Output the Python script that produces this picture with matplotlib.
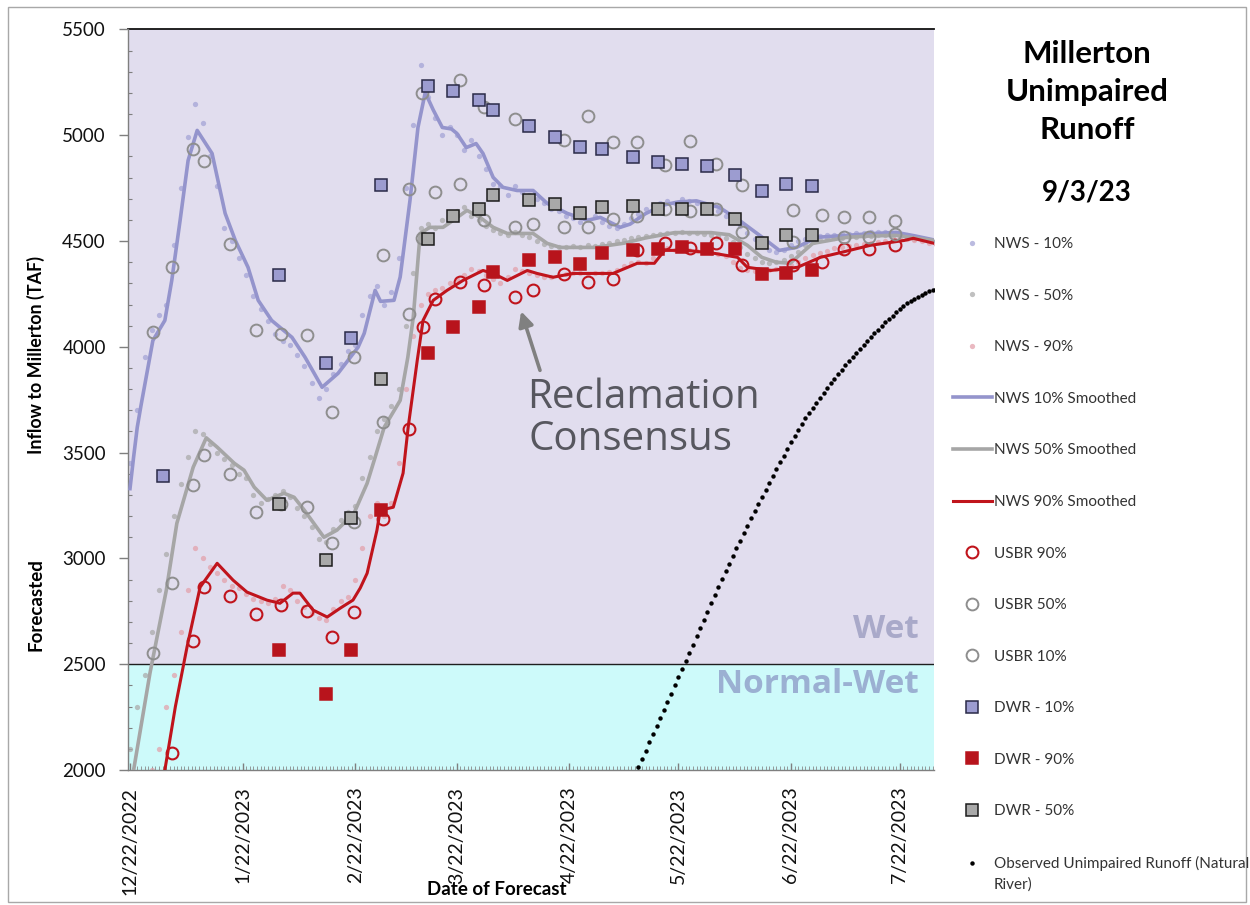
import numpy as np
import matplotlib
matplotlib.use("Agg")
import matplotlib.pyplot as plt
import matplotlib.dates as mdates
from matplotlib.ticker import FuncFormatter, MultipleLocator
from matplotlib.patches import Rectangle

# ---------------------------------------------------------------------------
# Forecast data (days counted from 12/22/2022, values in TAF)
# ---------------------------------------------------------------------------
# NWS smoothed traces
nws10_line_days = [0, 1, 2, 3, 6.3, 9.6, 11.5, 13.8, 16, 18.5, 22.6, 26.2, 29, 32.5, 35.3, 39,
                   44.6, 48.2, 52.9, 57.3, 62.8, 64.5, 67.5, 69, 72.7, 74.4, 77.1, 79.3, 81.3,
                   83.5, 86, 88.5, 90, 92.6, 95.3, 97.2, 100, 102.7, 106.6, 111, 114.9, 120.4,
                   125.9, 129.5, 135, 137.7, 142, 146.8, 151, 156, 162.3, 167.8, 174.1, 178.8,
                   183.5, 189.3, 197.5, 204, 211, 216, 221.5]
nws10_line = [3330, 3480, 3620, 3720, 4030, 4125, 4314, 4598, 4881, 5023, 4914, 4631, 4503, 4376,
              4220, 4125, 4045, 3951, 3809, 3875, 3998, 4064, 4267, 4215, 4220, 4330, 4692, 5037,
              5202, 5120, 5037, 5030, 5009, 4942, 4961, 4914, 4801, 4754, 4739, 4739, 4678, 4631,
              4598, 4612, 4565, 4580, 4630, 4670, 4685, 4690, 4659, 4598, 4518, 4456, 4470, 4518,
              4527, 4535, 4541, 4525, 4505]

nws50_line_days = [0, 1, 5.5, 10, 12.9, 17.4, 21, 24, 28.7, 31.4, 34.2, 37.7, 42.4, 45.2, 48,
                   53.4, 57, 61.7, 65.3, 67.5, 70, 74.4, 76.5, 78, 79.9, 82.6, 86.2, 89, 92.8,
                   96.4, 100, 103.9, 111, 114.9, 118.5, 128, 136, 142, 150, 160, 165, 170, 174,
                   178, 181.8, 188, 197.5, 205, 211, 216, 221.5]
nws50_line = [1900, 2000, 2458, 2850, 3166, 3431, 3570, 3526, 3450, 3417, 3337, 3275, 3308, 3289,
              3228, 3100, 3134, 3214, 3355, 3478, 3620, 3747, 3950, 4139, 4536, 4565, 4565, 4598,
              4645, 4612, 4565, 4536, 4536, 4489, 4470, 4470, 4490, 4515, 4540, 4540, 4530, 4480,
              4423, 4400, 4395, 4489, 4518, 4525, 4527, 4515, 4503]

nws90_line_days = [8.5, 9.6, 12.5, 15.7, 19.3, 24, 28.4, 32.2, 37.7, 41.3, 44.9, 46.8, 50.4, 54.3,
                   57.9, 61.4, 63.4, 65.3, 68, 68.9, 72.5, 75.2, 76.6, 79.1, 80.7, 83.5, 87.3,
                   91.7, 97.2, 100, 103.9, 109.4, 112.1, 116.5, 122, 133, 139.7, 144.4, 147.2,
                   153.5, 160.9, 167.3, 170, 176.4, 183.8, 190.1, 194.8, 203.9, 213.2, 215.7, 221.5]
nws90_line = [1900, 2000, 2300, 2581, 2864, 2977, 2897, 2841, 2803, 2788, 2836, 2836, 2756, 2723,
              2765, 2803, 2860, 2930, 3133, 3228, 3242, 3403, 3620, 3936, 4125, 4220, 4267, 4314,
              4361, 4347, 4314, 4361, 4347, 4329, 4347, 4347, 4395, 4395, 4456, 4456, 4442, 4423,
              4376, 4361, 4376, 4423, 4442, 4480, 4503, 4513, 4489]

# NWS raw forecasts, every second day
nws10_first_day, nws50_first_day, nws90_first_day = 0, 0, 6
nws10_dots = [3450, 3700, 3950, 4080, 4150, 4200, 4480, 4750, 4990, 5150,
              5060, 4900, 4760, 4560, 4500, 4420, 4340, 4240, 4180, 4120,
              4060, 4030, 4010, 3960, 3910, 3830, 3760, 3800, 3870, 3920,
              3980, 4010, 4150, 4240, 4290, 4200, 4260, 4420, 4750, 5050,
              5330, 5180, 5080, 5000, 5040, 5000, 4930, 4980, 4900, 4840,
              4770, 4760, 4720, 4760, 4730, 4720, 4700, 4680, 4650, 4640,
              4620, 4610, 4590, 4600, 4620, 4590, 4570, 4560, 4580, 4610,
              4630, 4650, 4670, 4680, 4690, 4680, 4700, 4690, 4680, 4670,
              4660, 4640, 4620, 4600, 4570, 4540, 4510, 4490, 4460, 4450,
              4460, 4480, 4500, 4510, 4520, 4525, 4530, 4530, 4535, 4535,
              4540, 4540, 4545, 4545, 4545, 4540, 4535, 4530, 4520, 4510,
              4505, 4500]
nws50_dots = [2100, 2300, 2450, 2650, 2850, 3020, 3200, 3350, 3480, 3600,
              3590, 3540, 3500, 3470, 3440, 3400, 3380, 3300, 3260, 3280,
              3300, 3320, 3290, 3240, 3200, 3150, 3090, 3080, 3140, 3180,
              3220, 3250, 3380, 3480, 3600, 3660, 3720, 3800, 4100, 4350,
              4560, 4580, 4560, 4600, 4620, 4640, 4660, 4620, 4600, 4570,
              4550, 4540, 4530, 4545, 4530, 4520, 4500, 4485, 4475, 4470,
              4470, 4475, 4470, 4480, 4475, 4485, 4490, 4500, 4505, 4515,
              4520, 4525, 4530, 4535, 4540, 4540, 4545, 4540, 4540, 4535,
              4530, 4525, 4515, 4495, 4470, 4440, 4420, 4400, 4395, 4400,
              4410, 4430, 4450, 4480, 4495, 4505, 4510, 4515, 4515, 4520,
              4520, 4525, 4525, 4528, 4528, 4525, 4522, 4518, 4512, 4508,
              4503, 4500]
nws90_dots = [2000, 2100, 2300, 2450, 2650, 2850, 3050, 3000, 2960, 2930,
              2900, 2870, 2860, 2830, 2810, 2800, 2790, 2810, 2870, 2850,
              2800, 2770, 2740, 2720, 2710, 2760, 2800, 2820, 2900, 3050,
              3200, 3260, 3200, 3260, 3450, 3800, 4050, 4200, 4250, 4270,
              4280, 4300, 4320, 4340, 4370, 4360, 4340, 4320, 4300, 4330,
              4370, 4360, 4350, 4340, 4330, 4330, 4340, 4345, 4350, 4350,
              4345, 4350, 4350, 4355, 4365, 4380, 4395, 4400, 4395, 4420,
              4460, 4465, 4460, 4460, 4458, 4455, 4450, 4445, 4440, 4430,
              4400, 4375, 4365, 4360, 4360, 4365, 4370, 4375, 4385, 4400,
              4420, 4435, 4445, 4455, 4465, 4470, 4478, 4482, 4486, 4490,
              4495, 4500, 4505, 4508, 4510, 4505, 4498, 4492, 4488]

# USBR forecasts
usbr10_days = [6.4, 11.5, 17.4, 20.5, 27.5, 34.7, 41.6, 48.7, 55.7, 61.8, 69.6, 76.8, 80.3, 91,
               97.4, 106, 119.4, 126, 133, 139.7, 147.4, 154.3, 161.4, 168.5, 182.7, 190.5,
               196.5, 203.4, 210.6]
usbr10 = [4070, 4377, 4936, 4878, 4488, 4081, 4062, 4054, 3690, 3952, 4432, 4745, 5200, 5262,
          5133, 5075, 4980, 5089, 4968, 4968, 4861, 4972, 4865, 4763, 4649, 4621, 4613, 4613, 4593]
usbr50_days = [6.4, 11.5, 17.4, 20.5, 27.5, 34.7, 41.6, 48.7, 55.7, 61.8, 69.6, 76.8, 80.3, 84,
               91, 97.4, 106, 111, 119.4, 126, 133, 139.7, 147.4, 154.3, 161.4, 168.5, 182.7,
               196.5, 203.4, 210.6]
usbr50 = [2551, 2882, 3346, 3488, 3401, 3220, 3255, 3244, 3073, 3173, 3645, 4157, 4515, 4730,
          4770, 4598, 4566, 4582, 4566, 4566, 4606, 4620, 4650, 4641, 4650, 4542, 4495, 4519,
          4519, 4535]
usbr90_days = [11.5, 17.4, 20.5, 27.5, 34.7, 41.6, 48.7, 55.7, 61.8, 69.6, 76.8, 80.8, 84, 91,
               97.4, 106, 111, 119.4, 126, 133, 139.7, 147.4, 154.3, 161.4, 168.5, 182.7, 190.5,
               196.5, 203.4, 210.6]
usbr90 = [2079, 2611, 2866, 2823, 2737, 2779, 2752, 2630, 2746, 3184, 3614, 4094, 4228, 4306,
          4291, 4235, 4270, 4346, 4306, 4322, 4456, 4490, 4465, 4490, 4385, 4385, 4401, 4464,
          4464, 4480]

# DWR forecasts
dwr10_days = [9.1, 40.9, 54, 60.9, 69, 82, 89, 96, 100, 110, 117, 124, 130, 138.6, 145.5, 152,
              159, 166.5, 174, 180.6, 187.8]
dwr10 = [3389, 4338, 3922, 4040, 4763, 5231, 5208, 5168, 5120, 5043, 4994, 4944, 4935, 4897,
         4873, 4865, 4854, 4810, 4739, 4768, 4760]
dwr_days = [40.9, 54, 60.9, 69, 82, 89, 96, 100, 110, 117, 124, 130, 138.6, 145.5, 152, 159,
            166.5, 174, 180.6, 187.8]
dwr50 = [3255, 2992, 3193, 3850, 4511, 4617, 4652, 4716, 4695, 4673, 4632, 4660, 4665, 4653,
         4653, 4653, 4606, 4492, 4527, 4527]
dwr90 = [2567, 2358, 2567, 3231, 3971, 4094, 4188, 4353, 4409, 4424, 4393, 4443, 4456, 4464,
         4472, 4464, 4464, 4346, 4349, 4365]

# Observed unimpaired runoff (daily, starting day 140)
observed_first_day = 140
observed = [2015, 2053, 2092, 2130, 2169, 2207, 2246, 2284, 2323, 2361,
            2400, 2438, 2477, 2515, 2554, 2593, 2632, 2671, 2710, 2749,
            2788, 2827, 2866, 2904, 2940, 2976, 3012, 3048, 3084, 3120,
            3155, 3190, 3225, 3259, 3292, 3325, 3358, 3390, 3422, 3454,
            3486, 3517, 3548, 3578, 3607, 3635, 3662, 3688, 3713, 3737,
            3760, 3783, 3805, 3827, 3849, 3870, 3891, 3912, 3932, 3952,
            3972, 3991, 4010, 4029, 4047, 4065, 4082, 4099, 4116, 4132,
            4148, 4163, 4178, 4192, 4205, 4217, 4228, 4238, 4247, 4255,
            4262, 4268, 4274]

# Year-type thresholds
WET_FLOOR = 2500
Y_MIN, Y_MAX = 2000, 5500

# ---------------------------------------------------------------------------
BASE = mdates.date2num(np.datetime64("2022-12-22"))


def to_x(days):
    return BASE + np.asarray(days, dtype=float)


def grid_days(first, n, step):
    return first + step * np.arange(n)


W, H = 1250, 905
plt.rcParams["font.family"] = ["Lato", "DejaVu Sans"]
fig = plt.figure(figsize=(W / 100, H / 100), dpi=100)
ax = fig.add_axes([128 / W, 1 - 770 / H, (934 - 128) / W, (770 - 29.5) / H])

LAV = "#9494cc"
GRAY = "#a6a6a6"
RED = "#c0141c"

# Year-type background bands
ax.axhspan(WET_FLOOR, Y_MAX, color="#e1ddee", zorder=0, lw=0)
ax.axhspan(Y_MIN, WET_FLOOR, color="#cdfafa", zorder=0, lw=0)
ax.axhline(WET_FLOOR, color="#1e1e1e", lw=1.0, zorder=1)
ax.axhline(Y_MAX, color="#111111", lw=1.3, zorder=1, clip_on=False)

dot_style = dict(ls="none", marker="o", ms=3.8, mec="none", alpha=0.75, zorder=2)
h = []
h.append(ax.plot(to_x(grid_days(nws10_first_day, len(nws10_dots), 2)), nws10_dots,
                 mfc="#a4a4d6", label="NWS - 10%", **dot_style)[0])
h.append(ax.plot(to_x(grid_days(nws50_first_day, len(nws50_dots), 2)), nws50_dots,
                 mfc="#ababab", label="NWS - 50%", **dot_style)[0])
h.append(ax.plot(to_x(grid_days(nws90_first_day, len(nws90_dots), 2)), nws90_dots,
                 mfc="#e3a2ac", label="NWS - 90%", **dot_style)[0])
h.append(ax.plot(to_x(nws10_line_days), nws10_line, color=LAV, lw=2.6, zorder=3,
                 solid_joinstyle="round", label="NWS 10% Smoothed")[0])
h.append(ax.plot(to_x(nws50_line_days), nws50_line, color=GRAY, lw=2.6, zorder=3,
                 solid_joinstyle="round", label="NWS 50% Smoothed")[0])
h.append(ax.plot(to_x(nws90_line_days), nws90_line, color=RED, lw=2.2, zorder=3,
                 solid_joinstyle="round", label="NWS 90% Smoothed")[0])
h.append(ax.plot(to_x(usbr90_days), usbr90, ls="none", marker="o", ms=8.5, mfc="none",
                 mec=RED, mew=1.5, zorder=4, label="USBR 90%")[0])
h.append(ax.plot(to_x(usbr50_days), usbr50, ls="none", marker="o", ms=8.5, mfc="none",
                 mec="#8e8e8e", mew=1.4, zorder=4, label="USBR 50%")[0])
h.append(ax.plot(to_x(usbr10_days), usbr10, ls="none", marker="o", ms=8.5, mfc="none",
                 mec="#8e8e8e", mew=1.4, zorder=4, label="USBR 10%")[0])
h.append(ax.plot(to_x(dwr10_days), dwr10, ls="none", marker="s", ms=8, mfc="#9c9cd0",
                 mec="#2a2a48", mew=1.1, zorder=5, label="DWR - 10%")[0])
h.append(ax.plot(to_x(dwr_days), dwr90, ls="none", marker="s", ms=8, mfc="#b8141c",
                 mec="#b8141c", mew=1.1, zorder=5, label="DWR - 90%")[0])
h.append(ax.plot(to_x(dwr_days), dwr50, ls="none", marker="s", ms=8, mfc="#a9a9a9",
                 mec="#1c1c1c", mew=1.1, zorder=5, label="DWR - 50%")[0])
h.append(ax.plot(to_x(grid_days(observed_first_day, len(observed), 1)), observed, ls="none",
                 marker="o", ms=3.2, mec="none", mfc="black", zorder=6,
                 label="Observed Unimpaired Runoff (Natural")[0])

# Axes, ticks
ax.set_xlim(BASE - 0.55, BASE + 221.4)
ax.set_ylim(Y_MIN, Y_MAX)
for s in ("top", "right"):
    ax.spines[s].set_visible(False)
for s in ("left", "bottom"):
    ax.spines[s].set_color("#7f7f7f")
    ax.spines[s].set_linewidth(1.0)

ax.yaxis.set_major_locator(MultipleLocator(500))
ax.yaxis.set_minor_locator(MultipleLocator(100))
ax.tick_params(axis="y", which="major", direction="out", length=6.5, width=1, color="#7f7f7f",
               pad=9.5, labelsize=13.5, labelcolor="#111111")
ax.tick_params(axis="y", which="minor", direction="in", length=3, width=0.8, color="#7f7f7f")

ax.xaxis.set_major_locator(mdates.MonthLocator(bymonthday=22))
ax.xaxis.set_minor_locator(mdates.DayLocator())
ax.xaxis.set_major_formatter(FuncFormatter(
    lambda v, pos: "{d.month}/{d.day}/{d.year}".format(d=mdates.num2date(v))))
ax.tick_params(axis="x", which="major", direction="in", length=5, width=1, color="#7f7f7f",
               pad=12, labelsize=14, labelrotation=90, labelcolor="#111111")
ax.tick_params(axis="x", which="minor", direction="in", length=3, width=0.6, color="#8a8a8a")

# Axis titles
fig.text(36 / W, 1 - 355 / H, "Inflow to Millerton (TAF)", rotation=90, ha="center",
         va="center", fontsize=12.9, fontweight="bold")
fig.text(36 / W, 1 - 605 / H, "Forecasted", rotation=90, ha="center", va="center",
         fontsize=13.5, fontweight="bold")
fig.text(497 / W, 1 - 889 / H, "Date of Forecast", ha="center", va="center", fontsize=13.5,
         fontweight="bold")

# Title block
fig.text(1087 / W, 1 - 92 / H, "Millerton\nUnimpaired\nRunoff", ha="center", va="center",
         fontsize=22.5, fontweight="bold", linespacing=1.43)
fig.text(1087 / W, 1 - 193 / H, "9/3/23", ha="center", va="center", fontsize=20,
         fontweight="bold")

# Year-type labels
fig.text(919 / W, 1 - 630 / H, "Wet", ha="right", va="center", fontsize=24,
         fontweight="bold", color="#a9a9c9", family="Open Sans")
fig.text(919 / W, 1 - 684 / H, "Normal-Wet", ha="right", va="center", fontsize=24,
         fontweight="bold", color="#9bb0d2", family="Open Sans")

# Reclamation consensus callout
ax.annotate("", xy=(to_x(107.7), 4168), xytext=(to_x(112.9), 3889),
            arrowprops=dict(arrowstyle="-|>", color="#808080", lw=2.6, mutation_scale=22,
                            shrinkA=0, shrinkB=0), zorder=7)
fig.text(643 / W, 1 - 398 / H, "Reclamation", ha="center", va="center", fontsize=29,
         color="#57575f", family="Open Sans")
fig.text(630 / W, 1 - 440 / H, "Consensus", ha="center", va="center", fontsize=29,
         color="#57575f", family="Open Sans")

# Legend
fig.legend(handles=h, loc="upper left", bbox_to_anchor=(953 / W, 1 - 237 / H),
           frameon=False, fontsize=11, labelspacing=2.46, handlelength=2.55,
           handletextpad=0.15, borderpad=0, borderaxespad=0, labelcolor="#333333")
fig.text(994 / W, 1 - 885 / H, "River)", ha="left", va="center", fontsize=11,
         color="#333333")

# Outer frame
fig.patches.append(Rectangle((8 / W, 3 / H), 1238 / W, 895 / H, transform=fig.transFigure,
                             fill=False, ec="#a8a8a8", lw=1.0))

fig.savefig("out.png", dpi=100, facecolor="white")
